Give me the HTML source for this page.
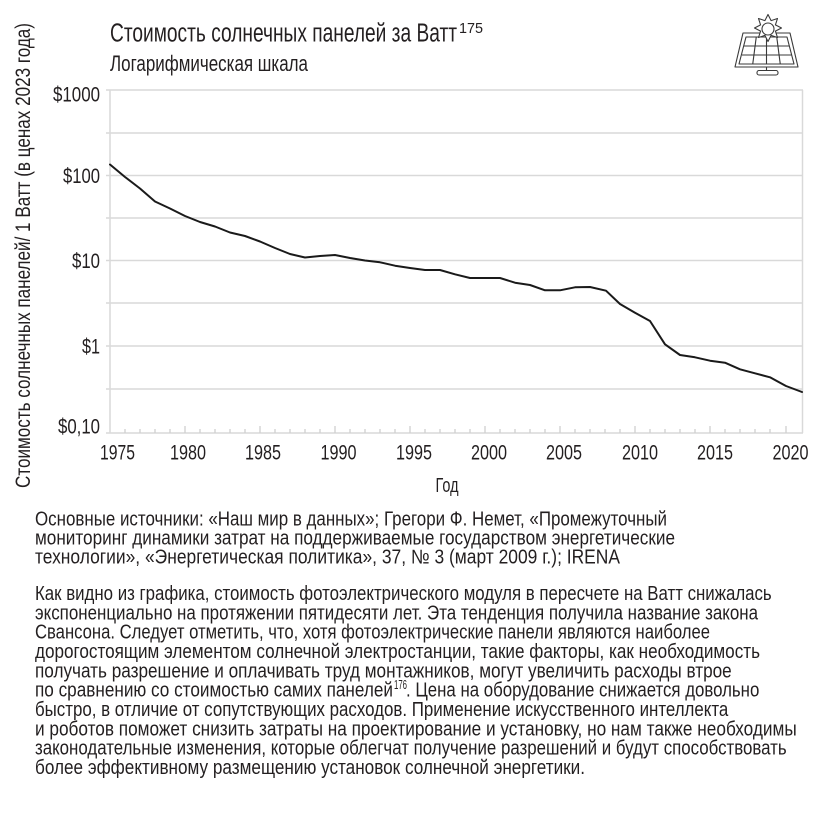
<!DOCTYPE html>
<html>
<head>
<meta charset="utf-8">
<style>
  html,body{margin:0;padding:0;background:#fff;}
  svg{display:block;}
  text{font-family:"Liberation Sans Narrow","Liberation Sans",sans-serif;fill:#231f20;}
</style>
</head>
<body>
<svg width="820" height="813" viewBox="0 0 820 813" xmlns="http://www.w3.org/2000/svg">
  <rect x="0" y="0" width="820" height="813" fill="#fff"/>

  <!-- Title -->
  <text x="110" y="41.5" font-size="25.5" textLength="347" lengthAdjust="spacingAndGlyphs">Стоимость солнечных панелей за Ватт</text>
  <text x="459" y="33" font-size="15" textLength="24" lengthAdjust="spacingAndGlyphs">175</text>
  <text x="110" y="71" font-size="22" textLength="198" lengthAdjust="spacingAndGlyphs">Логарифмическая шкала</text>

  <!-- Icon -->
  <g fill="none" stroke="#3a3a3a" stroke-width="1.1" stroke-linejoin="round">
    <polygon points="743,33 790,33 798,67 735,67"/>
    <polygon points="746,37 787,37 794,64 739,64"/>
    <line x1="744" y1="46" x2="789" y2="46"/>
    <line x1="742" y1="55" x2="791.5" y2="55"/>
    <line x1="756.25" y1="37" x2="752.75" y2="64"/>
    <line x1="766.5" y1="37" x2="766.5" y2="64"/>
    <line x1="776.75" y1="37" x2="780.25" y2="64"/>
    <line x1="766.5" y1="67" x2="766.5" y2="71"/>
    <rect x="757" y="70.5" width="21" height="4.5" rx="2"/>
  </g>
  <g stroke="#3a3a3a" stroke-width="1.1" fill="#fff" stroke-linejoin="round">
    <polygon points="768.0,14.5 771.1,20.6 777.5,18.5 775.4,24.9 781.5,28.0 775.4,31.1 777.5,37.5 771.1,35.4 768.0,41.5 764.9,35.4 758.5,37.5 760.6,31.1 754.5,28.0 760.6,24.9 758.5,18.5 764.9,20.6"/>
    <circle cx="768" cy="29" r="6"/>
  </g>

  <!-- Grid -->
  <g stroke="#d9d9d9" stroke-width="1.5">
    <line x1="106" y1="90" x2="803" y2="90"/>
    <line x1="106" y1="133" x2="802" y2="133"/>
    <line x1="106" y1="175.5" x2="802" y2="175.5"/>
    <line x1="106" y1="218" x2="802" y2="218"/>
    <line x1="106" y1="260.5" x2="802" y2="260.5"/>
    <line x1="106" y1="303" x2="802" y2="303"/>
    <line x1="106" y1="346" x2="802" y2="346"/>
    <line x1="106" y1="389" x2="802" y2="389"/>
    <line x1="106" y1="433" x2="803" y2="433"/>
    <line x1="110" y1="90" x2="110" y2="433"/>
    <line x1="802.5" y1="90" x2="802.5" y2="433"/>
  </g>
  <!-- X ticks -->
  <g stroke="#d0d0d0" stroke-width="1.3">
    <line x1="125" y1="429" x2="125" y2="433"/><line x1="140" y1="429" x2="140" y2="433"/><line x1="155" y1="429" x2="155" y2="433"/><line x1="170" y1="429" x2="170" y2="433"/>
    <line x1="185" y1="426" x2="185" y2="433"/>
    <line x1="200" y1="429" x2="200" y2="433"/><line x1="215" y1="429" x2="215" y2="433"/><line x1="230" y1="429" x2="230" y2="433"/><line x1="245" y1="429" x2="245" y2="433"/>
    <line x1="260" y1="426" x2="260" y2="433"/>
    <line x1="275" y1="429" x2="275" y2="433"/><line x1="290" y1="429" x2="290" y2="433"/><line x1="305" y1="429" x2="305" y2="433"/><line x1="320" y1="429" x2="320" y2="433"/>
    <line x1="335" y1="426" x2="335" y2="433"/>
    <line x1="350" y1="429" x2="350" y2="433"/><line x1="365" y1="429" x2="365" y2="433"/><line x1="380" y1="429" x2="380" y2="433"/><line x1="395" y1="429" x2="395" y2="433"/>
    <line x1="410" y1="426" x2="410" y2="433"/>
    <line x1="425" y1="429" x2="425" y2="433"/><line x1="440" y1="429" x2="440" y2="433"/><line x1="455" y1="429" x2="455" y2="433"/><line x1="470" y1="429" x2="470" y2="433"/>
    <line x1="485" y1="426" x2="485" y2="433"/>
    <line x1="500" y1="429" x2="500" y2="433"/><line x1="515" y1="429" x2="515" y2="433"/><line x1="530" y1="429" x2="530" y2="433"/><line x1="545" y1="429" x2="545" y2="433"/>
    <line x1="560" y1="426" x2="560" y2="433"/>
    <line x1="575" y1="429" x2="575" y2="433"/><line x1="590" y1="429" x2="590" y2="433"/><line x1="605" y1="429" x2="605" y2="433"/><line x1="620" y1="429" x2="620" y2="433"/>
    <line x1="635" y1="426" x2="635" y2="433"/>
    <line x1="650" y1="429" x2="650" y2="433"/><line x1="665" y1="429" x2="665" y2="433"/><line x1="680" y1="429" x2="680" y2="433"/><line x1="695" y1="429" x2="695" y2="433"/>
    <line x1="710" y1="426" x2="710" y2="433"/>
    <line x1="725" y1="429" x2="725" y2="433"/><line x1="740" y1="429" x2="740" y2="433"/><line x1="755" y1="429" x2="755" y2="433"/><line x1="770" y1="429" x2="770" y2="433"/>
    <line x1="786" y1="426" x2="786" y2="433"/>
  </g>

  <!-- Y tick labels -->
  <g font-size="21" text-anchor="end">
    <text x="100" y="101.5" textLength="47" lengthAdjust="spacingAndGlyphs">$1000</text>
    <text x="100" y="183" textLength="37" lengthAdjust="spacingAndGlyphs">$100</text>
    <text x="100" y="268" textLength="28" lengthAdjust="spacingAndGlyphs">$10</text>
    <text x="100" y="353.5" textLength="18" lengthAdjust="spacingAndGlyphs">$1</text>
    <text x="100" y="433.5" textLength="42" lengthAdjust="spacingAndGlyphs">$0,10</text>
  </g>

  <!-- X tick labels -->
  <g font-size="21" text-anchor="middle">
    <text x="117.5" y="459.5" textLength="35" lengthAdjust="spacingAndGlyphs">1975</text>
    <text x="188" y="459.5" textLength="36" lengthAdjust="spacingAndGlyphs">1980</text>
    <text x="263" y="459.5" textLength="36" lengthAdjust="spacingAndGlyphs">1985</text>
    <text x="338.5" y="459.5" textLength="36" lengthAdjust="spacingAndGlyphs">1990</text>
    <text x="414" y="459.5" textLength="36" lengthAdjust="spacingAndGlyphs">1995</text>
    <text x="489" y="459.5" textLength="36" lengthAdjust="spacingAndGlyphs">2000</text>
    <text x="564" y="459.5" textLength="36" lengthAdjust="spacingAndGlyphs">2005</text>
    <text x="640" y="459.5" textLength="36" lengthAdjust="spacingAndGlyphs">2010</text>
    <text x="715" y="459.5" textLength="36" lengthAdjust="spacingAndGlyphs">2015</text>
    <text x="790.5" y="459.5" textLength="36" lengthAdjust="spacingAndGlyphs">2020</text>
  </g>
  <text x="447" y="492" font-size="20.5" text-anchor="middle" textLength="23" lengthAdjust="spacingAndGlyphs">Год</text>

  <!-- Y axis label -->
  <text transform="translate(30,255.5) rotate(-90)" x="0" y="0" font-size="21" text-anchor="middle" textLength="465" lengthAdjust="spacingAndGlyphs">Стоимость солнечных панелей/ 1 Ватт (в ценах 2023 года)</text>

  <!-- Series -->
  <polyline fill="none" stroke="#1a1a1a" stroke-width="2" stroke-linejoin="round" stroke-linecap="round"
    points="110,164.5 125,177 140,188.5 155,201.5 170,208.5 185,216 200,222 215,226.5 230,232.5 245,236 260,241.5 275,248 290,254 305,257.5 320,256 335,255 350,258 365,260.5 380,262.3 395,265.7 410,268 425,270 440,270 455,274.3 470,278 485,278 500,278 515,282.7 530,285 545,290.3 560,290.3 575,287.3 590,287 606,290.7 620,304 635,312.7 650,321 665,344.3 680,355 695,357.3 710,360.7 725,362.7 740,369.3 755,373.3 770,377.3 786,386 802,392"/>

  <!-- Sources -->
  <g font-size="20">
    <text x="35" y="525.5" textLength="632" lengthAdjust="spacingAndGlyphs">Основные источники: «Наш мир в данных»; Грегори Ф. Немет, «Промежуточный</text>
    <text x="35" y="544.5" textLength="640" lengthAdjust="spacingAndGlyphs">мониторинг динамики затрат на поддерживаемые государством энергетические</text>
    <text x="35" y="563.5" textLength="585" lengthAdjust="spacingAndGlyphs">технологии», «Энергетическая политика», 37, № 3 (март 2009 г.); IRENA</text>
  </g>

  <!-- Paragraph -->
  <g font-size="20">
    <text x="35" y="600" textLength="736.7" lengthAdjust="spacingAndGlyphs">Как видно из графика, стоимость фотоэлектрического модуля в пересчете на Ватт снижалась</text>
    <text x="35" y="619.3" textLength="723" lengthAdjust="spacingAndGlyphs">экспоненциально на протяжении пятидесяти лет. Эта тенденция получила название закона</text>
    <text x="35" y="638.7" textLength="675" lengthAdjust="spacingAndGlyphs">Свансона. Следует отметить, что, хотя фотоэлектрические панели являются наиболее</text>
    <text x="35" y="658" textLength="725" lengthAdjust="spacingAndGlyphs">дорогостоящим элементом солнечной электростанции, такие факторы, как необходимость</text>
    <text x="35" y="677.3" textLength="696.7" lengthAdjust="spacingAndGlyphs">получать разрешение и оплачивать труд монтажников, могут увеличить расходы втрое</text>
    <text x="35" y="696.7" textLength="358" lengthAdjust="spacingAndGlyphs">по сравнению со стоимостью самих панелей</text>
    <text x="394" y="689" font-size="13" textLength="13" lengthAdjust="spacingAndGlyphs">176</text>
    <text x="406" y="696.7" textLength="353.3" lengthAdjust="spacingAndGlyphs">. Цена на оборудование снижается довольно</text>
    <text x="35" y="716" textLength="693.3" lengthAdjust="spacingAndGlyphs">быстро, в отличие от сопутствующих расходов. Применение искусственного интеллекта</text>
    <text x="35" y="735.3" textLength="761.7" lengthAdjust="spacingAndGlyphs">и роботов поможет снизить затраты на проектирование и установку, но нам также необходимы</text>
    <text x="35" y="754.7" textLength="751.7" lengthAdjust="spacingAndGlyphs">законодательные изменения, которые облегчат получение разрешений и будут способствовать</text>
    <text x="35" y="774" textLength="550" lengthAdjust="spacingAndGlyphs">более эффективному размещению установок солнечной энергетики.</text>
  </g>
</svg>
</body>
</html>
